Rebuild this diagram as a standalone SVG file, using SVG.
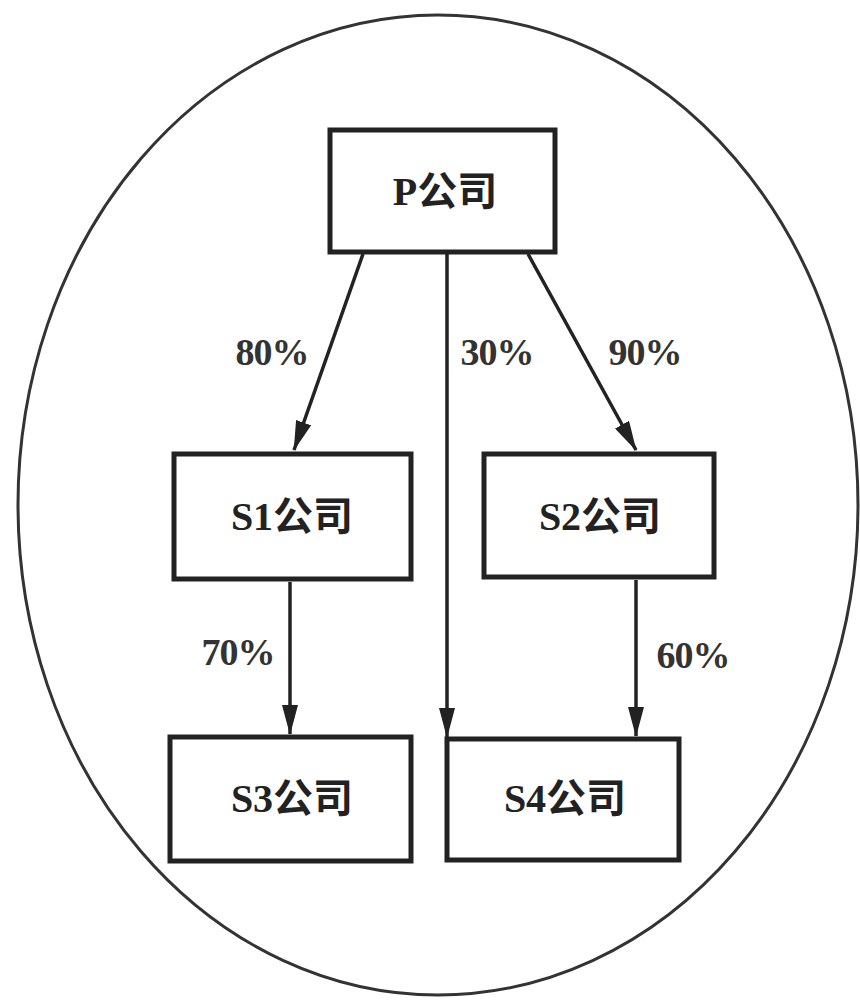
<svg xmlns="http://www.w3.org/2000/svg" width="860" height="1007" viewBox="0 0 860 1007">
<style>
.box{fill:#fff;stroke:#222;stroke-width:5}
.lbl{font-family:"Liberation Serif","Noto Sans CJK SC",serif;font-size:40px;fill:#222;text-anchor:middle;font-weight:bold}
.pct{font-family:"Liberation Serif",serif;font-size:38px;fill:#333;text-anchor:middle;font-weight:bold;letter-spacing:-1px}
.ln{stroke:#222;stroke-width:3.5;fill:none;marker-end:url(#ah)}
</style>
<defs>
<marker id="ah" markerUnits="userSpaceOnUse" markerWidth="30" markerHeight="16" refX="29" refY="8" viewBox="0 0 30 16" orient="auto">
<path d="M0,0 L30,8 L0,16 Z" fill="#222"/>
</marker>
</defs>
<rect width="860" height="1007" fill="#fff"/>
<ellipse cx="438" cy="505" rx="420" ry="490" fill="none" stroke="#333" stroke-width="3"/>
<g id="connectors">
<line class="ln" x1="363" y1="254" x2="294" y2="450"/>
<line class="ln" x1="447" y1="252" x2="447" y2="737"/>
<line class="ln" x1="528" y1="254" x2="636" y2="450"/>
<line class="ln" x1="290" y1="582" x2="290" y2="734"/>
<line class="ln" x1="636" y1="580" x2="636" y2="736"/>
<text class="pct" x="272" y="365">80%</text>
<text class="pct" x="497" y="365">30%</text>
<text class="pct" x="645" y="365">90%</text>
<text class="pct" x="238" y="665">70%</text>
<text class="pct" x="693" y="668">60%</text>
</g>
<g id="P"><rect class="box" x="330" y="130" width="225" height="122"/><text class="lbl" x="445" y="205">P公司</text></g>
<g id="S1"><rect class="box" x="174" y="454" width="237" height="125"/><text class="lbl" x="292" y="530">S1公司</text></g>
<g id="S2"><rect class="box" x="484" y="454" width="230" height="123"/><text class="lbl" x="600" y="530">S2公司</text></g>
<g id="S3"><rect class="box" x="170" y="737" width="241" height="124"/><text class="lbl" x="292" y="812">S3公司</text></g>
<g id="S4"><rect class="box" x="447" y="739" width="232" height="121"/><text class="lbl" x="565" y="812">S4公司</text></g>
</svg>
